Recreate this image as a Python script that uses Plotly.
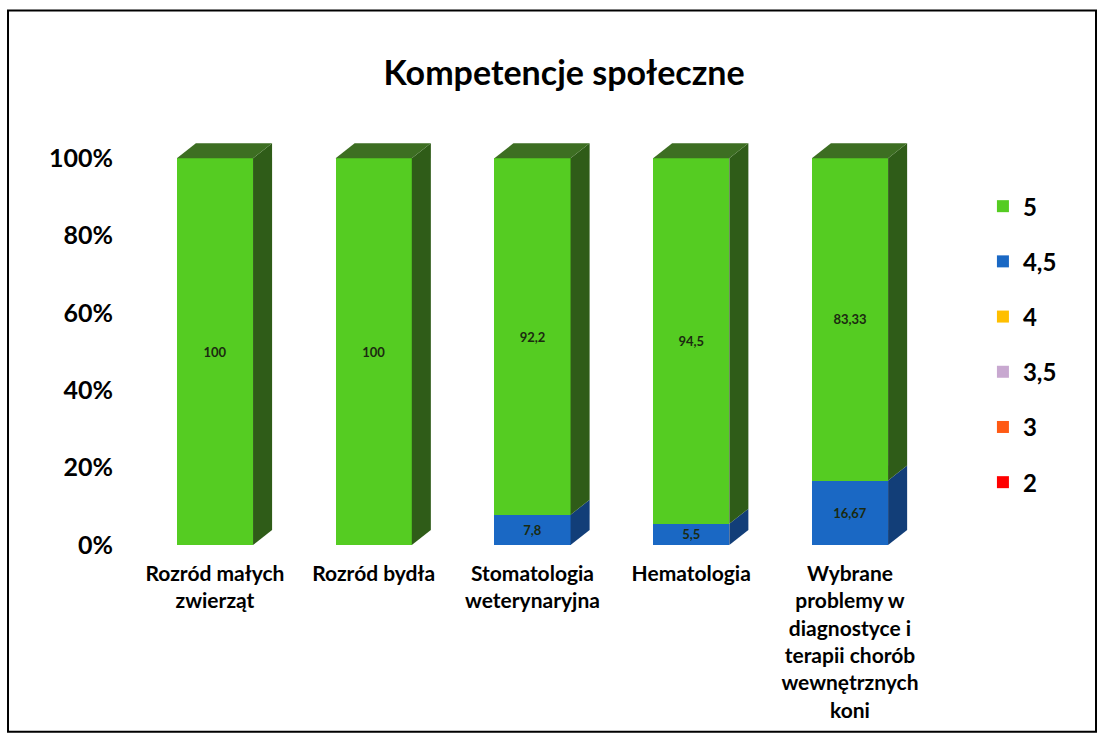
import plotly.graph_objects as go

categories = ["Rozród małych<br>zwierząt", "Rozród bydła", "Stomatologia<br>weterynaryjna",
              "Hematologia", "Wybrane<br>problemy w<br>diagnostyce i<br>terapii chorób<br>wewnętrznych<br>koni"]
grades = ["2", "3", "3,5", "4", "4,5", "5"]
values = {
    "2":   [0, 0, 0, 0, 0],
    "3":   [0, 0, 0, 0, 0],
    "3,5": [0, 0, 0, 0, 0],
    "4":   [0, 0, 0, 0, 0],
    "4,5": [0, 0, 7.8, 5.5, 16.67],
    "5":   [100, 100, 92.2, 94.5, 83.33],
}
labels = {
    "4,5": ["", "", "7,8", "5,5", "16,67"],
    "5":   ["100", "100", "92,2", "94,5", "83,33"],
}
colors = {"2": "#ff0000", "3": "#ff5a14", "3,5": "#c8a8d0", "4": "#ffbf00",
          "4,5": "#1a68c4", "5": "#55cc22"}
side_colors = {"2": "#8a0000", "3": "#8a3008", "3,5": "#6a5870", "4": "#8a6800",
               "4,5": "#123e78", "5": "#2f5c18"}
tickvals_y = [0, 20, 40, 60, 80, 100]
ticktext_y = ["0%", "20%", "40%", "60%", "80%", "100%"]

xpos = list(range(len(categories)))
bar_w = 0.48
dx, dy = 0.12, 3.9

fig = go.Figure()
for k, g in enumerate(grades):
    fig.add_trace(go.Bar(
        x=xpos, y=values[g], name=g, width=bar_w,
        marker=dict(color=colors[g], line=dict(width=0)),
        text=labels.get(g, [""] * len(categories)),
        textposition="inside", insidetextanchor="middle", textangle=0,
        constraintext="none",
        textfont=dict(size=13, color="#1b2a10", family="Lato", weight="bold"),
        legendgroup=g, legendrank=100 - k,
    ))

# pseudo-3D side and top faces derived from the data
shapes = []
for i in xpos:
    base = 0
    for g in grades:
        v = values[g][i]
        if v <= 0:
            continue
        t = base + v
        xr = i + bar_w / 2
        path = f"M {xr},{base} L {xr+dx},{base+dy} L {xr+dx},{t+dy} L {xr},{t} Z"
        shapes.append(dict(type="path", path=path, xref="x", yref="y",
                           fillcolor=side_colors[g], line=dict(width=0), layer="above"))
        base = t
    xl = i - bar_w / 2
    xr = i + bar_w / 2
    path = f"M {xl},{base} L {xl+dx},{base+dy} L {xr+dx},{base+dy} L {xr},{base} Z"
    shapes.append(dict(type="path", path=path, xref="x", yref="y",
                       fillcolor="#3d6e22", line=dict(width=0), layer="above"))

# outer frame
shapes.append(dict(type="rect", xref="paper", yref="paper",
                   x0=-0.1506, x1=1.1926, y0=-0.4602, y1=1.3166,
                   line=dict(color="black", width=2), fillcolor="rgba(0,0,0,0)"))

fig.update_layout(
    barmode="stack",
    width=1104, height=737,
    margin=dict(l=130, r=164, t=138.65, b=192),
    paper_bgcolor="white", plot_bgcolor="white",
    font=dict(family="Lato", color="black"),
    title=dict(text="<b>Kompetencje społeczne</b>", x=0.511, xanchor="center",
               y=0.901, yanchor="middle", yref="container",
               font=dict(size=34, family="Lato", color="black")),
    xaxis=dict(range=[-0.535, 4.567], tickvals=xpos, ticktext=categories,
               showgrid=False, zeroline=False, showline=False, ticks="",
               tickfont=dict(size=21, family="Lato", color="black", weight="bold"),
               ticklabelstandoff=14),
    yaxis=dict(range=[0, 105], tickvals=tickvals_y, ticktext=ticktext_y,
               showgrid=False, zeroline=False, showline=False, ticks="",
               tickfont=dict(size=25, family="Lato", color="black", weight="bold"),
               ticklabelstandoff=16),
    legend=dict(x=1.053, y=0.889, xanchor="left", yanchor="top",
                traceorder="grouped", tracegroupgap=21,
                font=dict(size=24, family="Lato", color="black", weight="bold"),
                itemwidth=30, bgcolor="rgba(0,0,0,0)"),
    shapes=shapes,
    bargap=0.52,
)

fig.write_html("out.html", config={"displayModeBar": False},
               post_script="document.body.style.margin='0';document.body.style.overflow='hidden';")
